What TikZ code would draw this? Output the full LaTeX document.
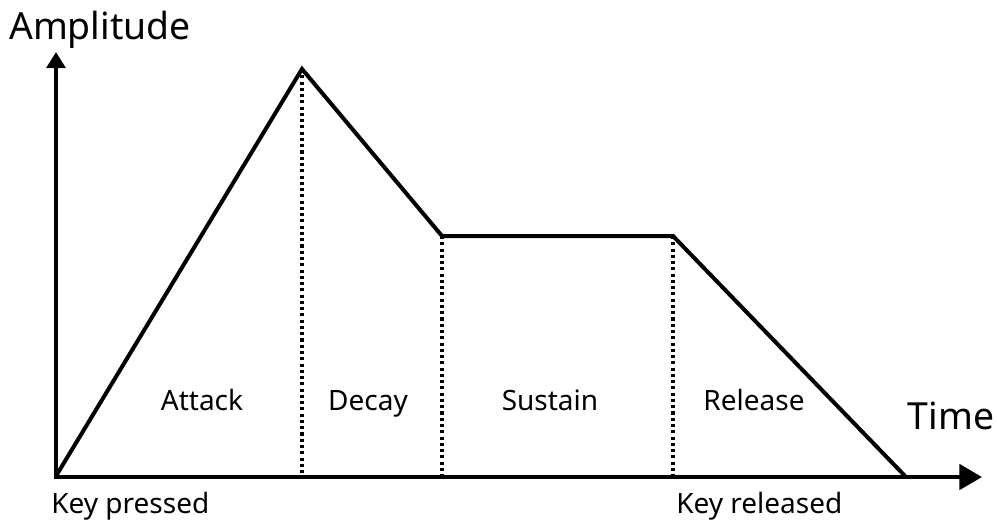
\documentclass[tikz,border=0pt]{standalone}
\usepackage{fontspec}
\setmainfont{Noto Sans}
\usetikzlibrary{arrows.meta}
\begin{document}
\begin{tikzpicture}[x=0.75pt,y=-0.75pt,
  envelope/.style={line width=3pt,line join=miter},
  divider/.style={line width=2.3pt,dash pattern=on 2.3pt off 2.4pt},
  phase/.style={font=\fontsize{21}{25}\selectfont,anchor=base,inner sep=0pt},
  caption/.style={font=\fontsize{21}{25}\selectfont,anchor=base west,inner sep=0pt},
  axislabel/.style={font=\fontsize{28}{32}\selectfont,anchor=base,inner sep=0pt}]
  \useasboundingbox (0,0) rectangle (999,522);
  % axes
  \coordinate (ybase) at (56,478);
  \coordinate (ytip) at (56,52);
  \coordinate (xbase) at (54,477);
  \coordinate (xtip) at (982,477);
  \draw[line width=3pt,-{Triangle[length=12pt,width=14pt]}] (ybase) -- (ytip);
  \draw[line width=3pt,-{Triangle[length=17pt,width=19pt]}] (xbase) -- (xtip);
  % envelope corners
  \coordinate (start) at (56,476);
  \coordinate (peak) at (302,69);
  \coordinate (dec) at (442,236);
  \coordinate (rel) at (673,236);
  \coordinate (end) at (905,476);
  \draw[envelope] (start) -- (peak) -- (dec) -- (rel) -- (end);
  % phase boundaries
  \coordinate (peakfoot) at (302,476);
  \coordinate (decfoot) at (442,476);
  \coordinate (relfoot) at (673,476);
  \draw[divider] (peak) -- (peakfoot);
  \draw[divider] (dec) -- (decfoot);
  \draw[divider] (rel) -- (relfoot);
  % labels
  \node[phase] (attack) at (202,410) {Attack};
  \node[phase] (decay) at (368,410) {Decay};
  \node[phase] (sustain) at (550,410) {Sustain};
  \node[phase] (release) at (754,410) {Release};
  \node[caption] (pressed) at (51,513) {Key pressed};
  \node[caption] (released) at (676,513) {Key released};
  \node[axislabel] (time) at (951,429) {Time};
  \node[axislabel] (amp) at (100,39) {Amplitude};
\end{tikzpicture}
\end{document}
